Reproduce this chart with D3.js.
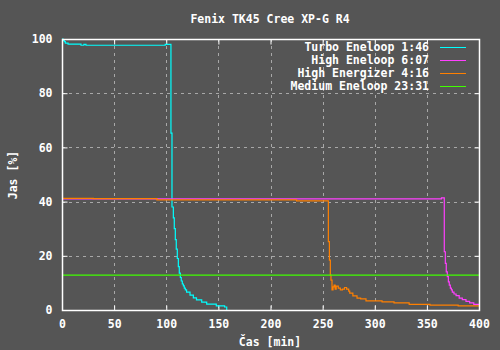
<!DOCTYPE html>
<html>
<head>
<meta charset="utf-8">
<script src="https://cdn.jsdelivr.net/npm/d3@7"></script>
<style>
	body { margin: 0; background: #555555; }
	text { font-family: "DejaVu Sans Mono", monospace; font-weight: bold; font-size: 11.5px; fill: #fff; }
</style>
</head>
<body>
<script>
// time [min], brightness [%]
let turbo = [[0,100],[1,99.5],[2.2,99],[3.2,98.5],[5.8,98.1],[18.2,97.7],[21,98.0],[23,97.7],[99,98.0],[104.5,65.3],
	[105.5,38],[106.8,34],[107.7,30],[108.7,26],[109.6,22.5],[110.6,19],[111.6,16],[112.5,13.6],[113.5,12],[114.4,10.7],
	[115.4,9.6],[116.4,8.9],[117.3,8.1],[118.3,7.4],[119.5,6.6],[122.8,5.5],[126,4.5],[129,3.7],[134,2.9],[138.8,2.2],
	[148,1.5],[156,1.1],[158,0]];
let highEneloop = [[0,41.0],[364,41.4],[366.7,21.5],[367.7,17.2],[368.6,14.1],[369.6,12.3],[370.6,10.4],[371.5,9.2],
	[372.5,8.1],[373.5,7.4],[374.4,6.6],[376,5.9],[378,5.3],[381,4.4],[384,3.8],[387.5,3.2],[391,2.6],[395,2.1],[400,1.8]];
let highEnergizer = [[0,41.2],[30,41.1],[91,40.6],[225,40.3],[255.5,25.2],[256.5,18.4],[257.4,12.9],[258,11],[259,7.4],
	[260,8.5],[261,9.2],[262,7.7],[263,8.8],[265,8.1],[267,7.4],[269,7.7],[271,8.3],[273,7.7],[275,7],[276,6.2],[279,5.2],
	[283,4.4],[286.5,4.1],[291.6,3.4],[307,3.0],[318.5,2.6],[333,2.1],[353,1.8],[380,1.5],[400,1.5]];
let mediumEneloop = [[0,12.9],[400,12.9]];

let series = [
	{name: "Turbo Eneloop 1:46", data: turbo, color: "#00ffff"},
	{name: "High Eneloop 6:07", data: highEneloop, color: "#ff40ff"},
	{name: "High Energizer 4:16", data: highEnergizer, color: "#ff8000"},
	{name: "Medium Eneloop 23:31", data: mediumEneloop, color: "#40ff00"}
];

let xTicks = [0, 50, 100, 150, 200, 250, 300, 350, 400];
let yTicks = [0, 20, 40, 60, 80, 100];

let width = 500, height = 350;
let pLeft = 62, pRight = 479, pTop = 39, pBottom = 310;

let x = d3.scaleLinear().domain([0, 400]).range([pLeft, pRight]);
let y = d3.scaleLinear().domain([0, 100]).range([pBottom, pTop]);

let svg = d3.select("body").append("svg")
	.attr("width", width)
	.attr("height", height);

svg.append("rect").attr("width", width).attr("height", height).attr("fill", "#555555");

// grid
let grid = svg.append("g").attr("stroke", "#a8a8a8").attr("stroke-dasharray", "3,4").attr("stroke-width", 1);
grid.selectAll(".gx").data(xTicks.slice(1, -1)).enter().append("line")
	.attr("x1", d => Math.round(x(d)) + 0.5).attr("x2", d => Math.round(x(d)) + 0.5)
	.attr("y1", pTop).attr("y2", pBottom);
grid.selectAll(".gy").data(yTicks.slice(1, -1)).enter().append("line")
	.attr("y1", d => Math.round(y(d)) + 0.5).attr("y2", d => Math.round(y(d)) + 0.5)
	.attr("x1", pLeft).attr("x2", pRight);

// axes with inward ticks on all sides
svg.append("g").attr("transform", `translate(0,${pBottom + 0.5})`)
	.call(d3.axisBottom(x).tickValues(xTicks).tickSize(-5).tickPadding(9))
	.call(g => g.select(".domain").remove());
svg.append("g").attr("transform", `translate(0,${pTop + 0.5})`)
	.call(d3.axisTop(x).tickValues(xTicks).tickSize(-5).tickFormat(""))
	.call(g => g.select(".domain").remove());
svg.append("g").attr("transform", `translate(${pLeft + 0.5},0)`)
	.call(d3.axisLeft(y).tickValues(yTicks).tickSize(-5).tickPadding(10))
	.call(g => g.select(".domain").remove());
svg.append("g").attr("transform", `translate(${pRight + 0.5},0)`)
	.call(d3.axisRight(y).tickValues(yTicks).tickSize(-5).tickFormat(""))
	.call(g => g.select(".domain").remove());

svg.selectAll(".tick line").attr("stroke", "#fff");
svg.selectAll(".tick text").attr("fill", "#fff").style("font-size", "11.5px")
	.style("font-family", '"DejaVu Sans Mono", monospace').style("font-weight", "bold");

let line = d3.line()
	.x(d => x(d[0]))
	.y(d => y(d[1]))
	.curve(d3.curveStepAfter);

let plot = svg.append("g");
series.forEach(s => {
	plot.append("path")
		.datum(s.data)
		.attr("d", line)
		.attr("fill", "none")
		.attr("stroke", s.color)
		.attr("stroke-width", 1.2);
});

svg.append("rect")
	.attr("x", pLeft + 0.5).attr("y", pTop + 0.5)
	.attr("width", pRight - pLeft).attr("height", pBottom - pTop)
	.attr("fill", "none").attr("stroke", "#fff").attr("stroke-width", 1.5);

// legend
let legend = svg.append("g");
series.forEach((s, i) => {
	let ly = 47 + i * 13;
	legend.append("text")
		.attr("x", 429).attr("y", ly + 4)
		.attr("text-anchor", "end")
		.text(s.name);
	legend.append("line")
		.attr("x1", 440).attr("x2", 466)
		.attr("y1", ly + 0.5).attr("y2", ly + 0.5)
		.attr("stroke", s.color).attr("stroke-width", 1);
});

svg.append("text").attr("x", 270).attr("y", 23).attr("text-anchor", "middle").text("Fenix TK45 Cree XP-G R4");
svg.append("text").attr("x", 270).attr("y", 346).attr("text-anchor", "middle").text("Čas [min]");
svg.append("text").attr("transform", "translate(17,175) rotate(-90)").attr("text-anchor", "middle").text("Jas [%]");
</script>
</body>
</html>
